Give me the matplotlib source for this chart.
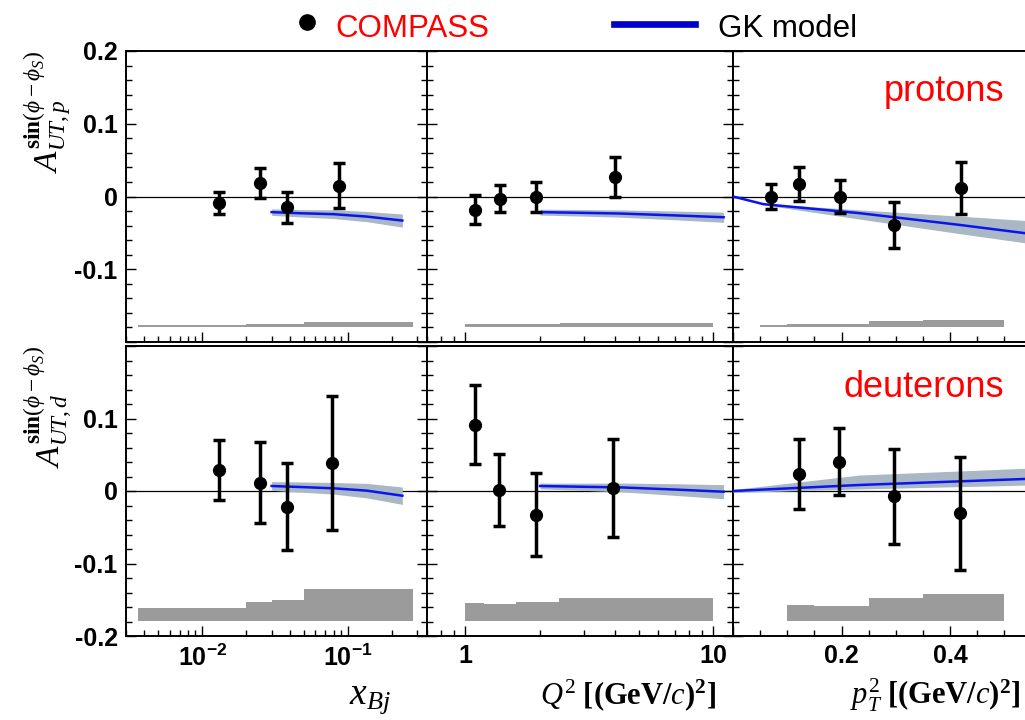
import numpy as np
import matplotlib.pyplot as plt
from matplotlib.lines import Line2D
from matplotlib.ticker import FixedLocator, MultipleLocator, NullFormatter

plt.rcParams['font.family'] = ['Liberation Sans', 'DejaVu Sans']
plt.rcParams['mathtext.fontset'] = 'custom'
plt.rcParams['mathtext.rm'] = 'Liberation Serif'
plt.rcParams['mathtext.it'] = 'Liberation Serif:italic'
plt.rcParams['mathtext.bf'] = 'Liberation Serif:bold'
plt.rcParams['mathtext.sf'] = 'Liberation Sans:bold'

# ---- COMPASS points, protons ----
xbj_p = [0.013, 0.025, 0.038, 0.087]
asym_xbj_p = [-0.009, 0.0185, -0.015, 0.015]
err_xbj_p = [0.0155, 0.021, 0.021, 0.031]

q2_p = [1.09, 1.38, 1.93, 4.03]
asym_q2_p = [-0.0183, -0.0032, -0.001, 0.027]
err_q2_p = [0.020, 0.0184, 0.0207, 0.027]

pt2_p = [0.07, 0.122, 0.197, 0.2966, 0.42]
asym_pt2_p = [0.0, 0.0171, 0.0, -0.039, 0.0115]
err_pt2_p = [0.0166, 0.0237, 0.023, 0.0317, 0.0359]

# ---- COMPASS points, deuterons ----
xbj_d = [0.013, 0.025, 0.038, 0.078]
asym_xbj_d = [0.029, 0.0115, -0.0217, 0.0383]
err_xbj_d = [0.0415, 0.0556, 0.060, 0.0927]

q2_d = [1.097, 1.37, 1.92, 3.93]
asym_q2_d = [0.0913, 0.0014, -0.0325, 0.004]
err_q2_d = [0.0544, 0.050, 0.057, 0.0673]

pt2_d = [0.122, 0.195, 0.296, 0.4185]
asym_pt2_d = [0.0235, 0.0406, -0.0075, -0.031]
err_pt2_d = [0.0484, 0.0466, 0.066, 0.0775]

# ---- GK model curves with uncertainty band ----
gk_xbj = [0.03, 0.047, 0.08, 0.135, 0.237]
gk_xbj_p = [-0.0215, -0.023, -0.0243, -0.0276, -0.0331]
gk_xbj_p_lo = [-0.026, -0.028, -0.0303, -0.0346, -0.0421]
gk_xbj_p_hi = [-0.017, -0.018, -0.0183, -0.0206, -0.0241]
gk_xbj_d = [0.0069, 0.0055, 0.0037, 0.0005, -0.0065]
gk_xbj_d_lo = [0.0009, -0.0015, -0.0043, -0.0095, -0.0185]
gk_xbj_d_hi = [0.0129, 0.0125, 0.0117, 0.0105, 0.0055]

gk_q2 = [2.0, 3.0, 4.2, 7.0, 11.0]
gk_q2_p = [-0.0215, -0.0225, -0.0234, -0.026, -0.0285]
gk_q2_p_lo = [-0.0255, -0.027, -0.0284, -0.032, -0.0355]
gk_q2_p_hi = [-0.0175, -0.018, -0.0184, -0.020, -0.0215]
gk_q2_d = [0.0069, 0.0058, 0.005, 0.002, -0.001]
gk_q2_d_lo = [0.0029, 0.0008, -0.001, -0.006, -0.0107]
gk_q2_d_hi = [0.0109, 0.0108, 0.011, 0.010, 0.0087]

gk_pt2_p_x = [0.0, 0.056, 0.233, 0.417, 0.56]
gk_pt2_p = [0.0, -0.0105, -0.0229, -0.039, -0.0525]
gk_pt2_p_lo = [0.0, -0.0115, -0.031, -0.051, -0.066]
gk_pt2_p_hi = [0.0, -0.0095, -0.0184, -0.027, -0.034]
gk_pt2_d_x = [0.0, 0.233, 0.56]
gk_pt2_d = [0.0, 0.0083, 0.0172]
gk_pt2_d_lo = [-0.002, 0.0028, 0.0085]
gk_pt2_d_hi = [0.002, 0.022, 0.032]

# ---- systematic bands (bin edges, top of band; base at -0.18) ----
sys_base = -0.18
sys_xbj_p_edges = [0.0036, 0.02, 0.05, 0.28]
sys_xbj_p = [-0.1765, -0.1747, -0.172]
sys_xbj_d_edges = [0.0036, 0.02, 0.03, 0.05, 0.28]
sys_xbj_d = [-0.161, -0.153, -0.151, -0.1346]
sys_q2_p_edges = [1.0, 2.4, 10.0]
sys_q2_p = [-0.1756, -0.1738]
sys_q2_d_edges = [1.0, 1.19, 1.6, 2.39, 10.0]
sys_q2_d = [-0.154, -0.156, -0.153, -0.1476]
sys_pt2_p_edges = [0.05, 0.1, 0.25, 0.35, 0.5]
sys_pt2_p = [-0.176, -0.1747, -0.1715, -0.170]
sys_pt2_d_edges = [0.1, 0.15, 0.25, 0.35, 0.5]
sys_pt2_d = [-0.157, -0.158, -0.148, -0.1425]

W, H = 1025, 720
fig = plt.figure(figsize=(W / 100, H / 100), dpi=100)

col_l = [126, 427, 733]
col_r = [427, 733, 1037]
row_t = [51, 346]
row_b = [342, 636]


def draw_panel(ax, x, y, err, gx, gy, glo, ghi, edges, tops):
    ax.axhline(0, color='black', lw=0.9, zorder=1)
    ax.fill_between(edges, sys_base, list(tops) + [tops[-1]], step='post',
                    color='#9b9b9b', lw=0, zorder=2)
    ax.fill_between(gx, glo, ghi, color='#a9b8c4', lw=0, zorder=3)
    ax.plot(gx, gy, color='#0a14f0', lw=1.8, zorder=4)
    ax.errorbar(x, y, yerr=err, fmt='o', color='black', ms=8.5,
                elinewidth=2.5, capsize=4.5, capthick=2.5, zorder=5)


panels = [
    [(xbj_p, asym_xbj_p, err_xbj_p, gk_xbj, gk_xbj_p, gk_xbj_p_lo, gk_xbj_p_hi, sys_xbj_p_edges, sys_xbj_p),
     (q2_p, asym_q2_p, err_q2_p, gk_q2, gk_q2_p, gk_q2_p_lo, gk_q2_p_hi, sys_q2_p_edges, sys_q2_p),
     (pt2_p, asym_pt2_p, err_pt2_p, gk_pt2_p_x, gk_pt2_p, gk_pt2_p_lo, gk_pt2_p_hi, sys_pt2_p_edges, sys_pt2_p)],
    [(xbj_d, asym_xbj_d, err_xbj_d, gk_xbj, gk_xbj_d, gk_xbj_d_lo, gk_xbj_d_hi, sys_xbj_d_edges, sys_xbj_d),
     (q2_d, asym_q2_d, err_q2_d, gk_q2, gk_q2_d, gk_q2_d_lo, gk_q2_d_hi, sys_q2_d_edges, sys_q2_d),
     (pt2_d, asym_pt2_d, err_pt2_d, gk_pt2_d_x, gk_pt2_d, gk_pt2_d_lo, gk_pt2_d_hi, sys_pt2_d_edges, sys_pt2_d)],
]

for r in range(2):
    for c in range(3):
        l, rr, t, b = col_l[c], col_r[c], row_t[r], row_b[r]
        ax = fig.add_axes([l / W, 1 - b / H, (rr - l) / W, (b - t) / H])
        draw_panel(ax, *panels[r][c])

        if c == 0:
            ax.set_xscale('log')
            ax.set_xlim(0.003, 0.35)
            ax.xaxis.set_major_locator(FixedLocator([0.01, 0.1]))
            xlabels = [r'$\mathsf{10^{-2}}$', r'$\mathsf{10^{-1}}$']
        elif c == 1:
            ax.set_xscale('log')
            ax.set_xlim(0.7, 12)
            ax.xaxis.set_major_locator(FixedLocator([1, 10]))
            xlabels = ['1', '10']
        else:
            ax.set_xlim(0, 0.56)
            ax.xaxis.set_major_locator(FixedLocator([0, 0.2, 0.4]))
            ax.xaxis.set_minor_locator(MultipleLocator(0.05))
            xlabels = ['', '0.2', '0.4']
        ax.xaxis.set_minor_formatter(NullFormatter())
        if r == 1:
            ax.set_xticklabels(xlabels, fontsize=18, fontweight='bold')
        else:
            ax.set_xticklabels([])

        ax.set_ylim(-0.2, 0.2)
        ax.yaxis.set_major_locator(FixedLocator([-0.2, -0.1, 0, 0.1, 0.2]))
        ax.yaxis.set_minor_locator(MultipleLocator(0.02))
        if c == 0:
            ylabels = ['', '-0.1', '0', '0.1', '0.2'] if r == 0 else ['-0.2', '-0.1', '0', '0.1', '']
            ax.set_yticklabels(ylabels, fontsize=18, fontweight='bold')
        else:
            ax.set_yticklabels([])

        ax.tick_params(which='both', direction='in', top=False, right=True, width=1)
        ax.tick_params(which='major', length=7, pad=6)
        ax.tick_params(which='minor', length=4)
        for sp in ax.spines.values():
            sp.set_linewidth(1.4)

# axis titles
fig.text(370 / W, 1 - 698 / H, r'$x_{Bj}$', ha='center', va='center', fontsize=27)
fig.text(628 / W, 1 - 695 / H, r'$Q^2\ \mathbf{[(GeV/}c\mathbf{)^2]}$', ha='center', va='center', fontsize=22)
fig.text(935 / W, 1 - 695 / H, r'$p_T^2\ \mathbf{[(GeV/}c\mathbf{)^2]}$', ha='center', va='center', fontsize=22)
fig.text(48 / W, 1 - 112 / H, r'$A^{\mathbf{sin}(\phi-\phi_S)}_{UT,p}$', rotation=90,
         ha='center', va='center', fontsize=24)
fig.text(48 / W, 1 - 407 / H, r'$A^{\mathbf{sin}(\phi-\phi_S)}_{UT,d}$', rotation=90,
         ha='center', va='center', fontsize=24)

# legend
fig.add_artist(Line2D([307 / W], [1 - 22 / H], marker='o', ms=11, color='black',
                      transform=fig.transFigure))
fig.text(335 / W, 1 - 37 / H, 'COMPASS', color='red', fontsize=22.5, va='baseline')
fig.add_artist(Line2D([614 / W, 695 / W], [1 - 24 / H, 1 - 24 / H], lw=4.8, color='#0000cc',
                      transform=fig.transFigure))
fig.text(718 / W, 1 - 37 / H, 'GK model', fontsize=22.5, va='baseline')

fig.text(1004 / W, 1 - 101 / H, 'protons', color='red', fontsize=26, ha='right', va='baseline')
fig.text(1004 / W, 1 - 397 / H, 'deuterons', color='red', fontsize=26, ha='right', va='baseline')

plt.savefig('out.png', dpi=100)
